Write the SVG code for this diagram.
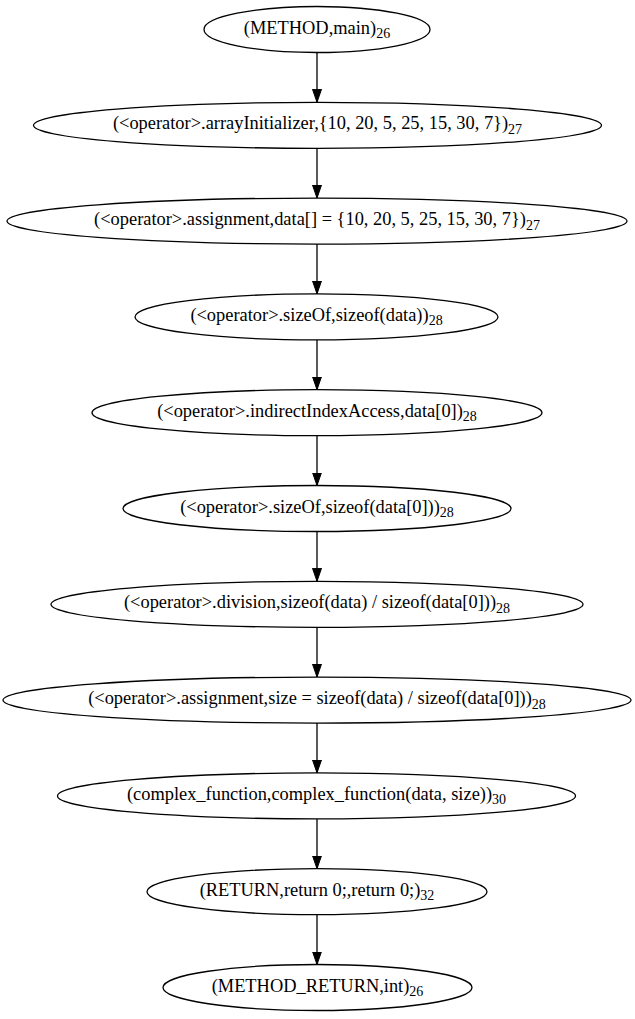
<svg xmlns="http://www.w3.org/2000/svg" width="635" height="1019" viewBox="0 0 635 1019">
<style>
.n ellipse{fill:#fff;stroke:#000;stroke-width:1.3}
.n text{font-family:"Liberation Serif","Times New Roman",serif;font-size:18.4px;text-anchor:middle;fill:#000}
.n tspan{font-size:14px}
#edges line{stroke:#000;stroke-width:1.3}
</style>
<defs>
<marker id="ah" markerUnits="userSpaceOnUse" markerWidth="14" markerHeight="10" viewBox="0 0 14 10" refX="13" refY="5" orient="auto">
<polygon points="0,0.5 13,5 0,9.5" fill="#000" stroke="#000" stroke-width="1"/>
</marker>
</defs>
<rect width="635" height="1019" fill="#fff"/>
<g id="edges">
<line x1="317" y1="52.5" x2="317" y2="102.3" marker-end="url(#ah)"/>
<line x1="317" y1="148.3" x2="317" y2="198.1" marker-end="url(#ah)"/>
<line x1="317" y1="244.1" x2="317" y2="293.9" marker-end="url(#ah)"/>
<line x1="317" y1="339.9" x2="317" y2="389.7" marker-end="url(#ah)"/>
<line x1="317" y1="435.7" x2="317" y2="485.5" marker-end="url(#ah)"/>
<line x1="317" y1="531.5" x2="317" y2="581.3" marker-end="url(#ah)"/>
<line x1="317" y1="627.3" x2="317" y2="677.1" marker-end="url(#ah)"/>
<line x1="317" y1="723.1" x2="317" y2="772.9" marker-end="url(#ah)"/>
<line x1="317" y1="818.9" x2="317" y2="868.7" marker-end="url(#ah)"/>
<line x1="317" y1="914.7" x2="317" y2="964.5" marker-end="url(#ah)"/>
</g>
<g id="n1" class="n"><ellipse cx="317" cy="29.5" rx="113" ry="23"/><text x="317" y="33.5">(METHOD,main)<tspan dy="4.5">26</tspan></text></g>
<g id="n2" class="n"><ellipse cx="317.5" cy="125.3" rx="284" ry="23"/><text x="317.5" y="129.3">(&lt;operator&gt;.arrayInitializer,{10, 20, 5, 25, 15, 30, 7})<tspan dy="4.5">27</tspan></text></g>
<g id="n3" class="n"><ellipse cx="317" cy="221.1" rx="310" ry="23"/><text x="317" y="225.1">(&lt;operator&gt;.assignment,data[] = {10, 20, 5, 25, 15, 30, 7})<tspan dy="4.5">27</tspan></text></g>
<g id="n4" class="n"><ellipse cx="316.5" cy="316.9" rx="181.5" ry="23"/><text x="316.5" y="320.9">(&lt;operator&gt;.sizeOf,sizeof(data))<tspan dy="4.5">28</tspan></text></g>
<g id="n5" class="n"><ellipse cx="317" cy="412.7" rx="225" ry="23"/><text x="317" y="416.7">(&lt;operator&gt;.indirectIndexAccess,data[0])<tspan dy="4.5">28</tspan></text></g>
<g id="n6" class="n"><ellipse cx="317" cy="508.5" rx="194" ry="23"/><text x="317" y="512.5">(&lt;operator&gt;.sizeOf,sizeof(data[0]))<tspan dy="4.5">28</tspan></text></g>
<g id="n7" class="n"><ellipse cx="317" cy="604.3" rx="266" ry="23"/><text x="317" y="608.3">(&lt;operator&gt;.division,sizeof(data) / sizeof(data[0]))<tspan dy="4.5">28</tspan></text></g>
<g id="n8" class="n"><ellipse cx="317" cy="700.1" rx="314" ry="23"/><text x="317" y="704.1">(&lt;operator&gt;.assignment,size = sizeof(data) / sizeof(data[0]))<tspan dy="4.5">28</tspan></text></g>
<g id="n9" class="n"><ellipse cx="316.5" cy="795.9" rx="259" ry="23"/><text x="316.5" y="799.9">(complex_function,complex_function(data, size))<tspan dy="4.5">30</tspan></text></g>
<g id="n10" class="n"><ellipse cx="317" cy="891.7" rx="170" ry="23"/><text x="317" y="895.7">(RETURN,return 0;,return 0;)<tspan dy="4.5">32</tspan></text></g>
<g id="n11" class="n"><ellipse cx="317.5" cy="987.5" rx="154.5" ry="23"/><text x="317.5" y="991.5">(METHOD_RETURN,int)<tspan dy="4.5">26</tspan></text></g>
</svg>
